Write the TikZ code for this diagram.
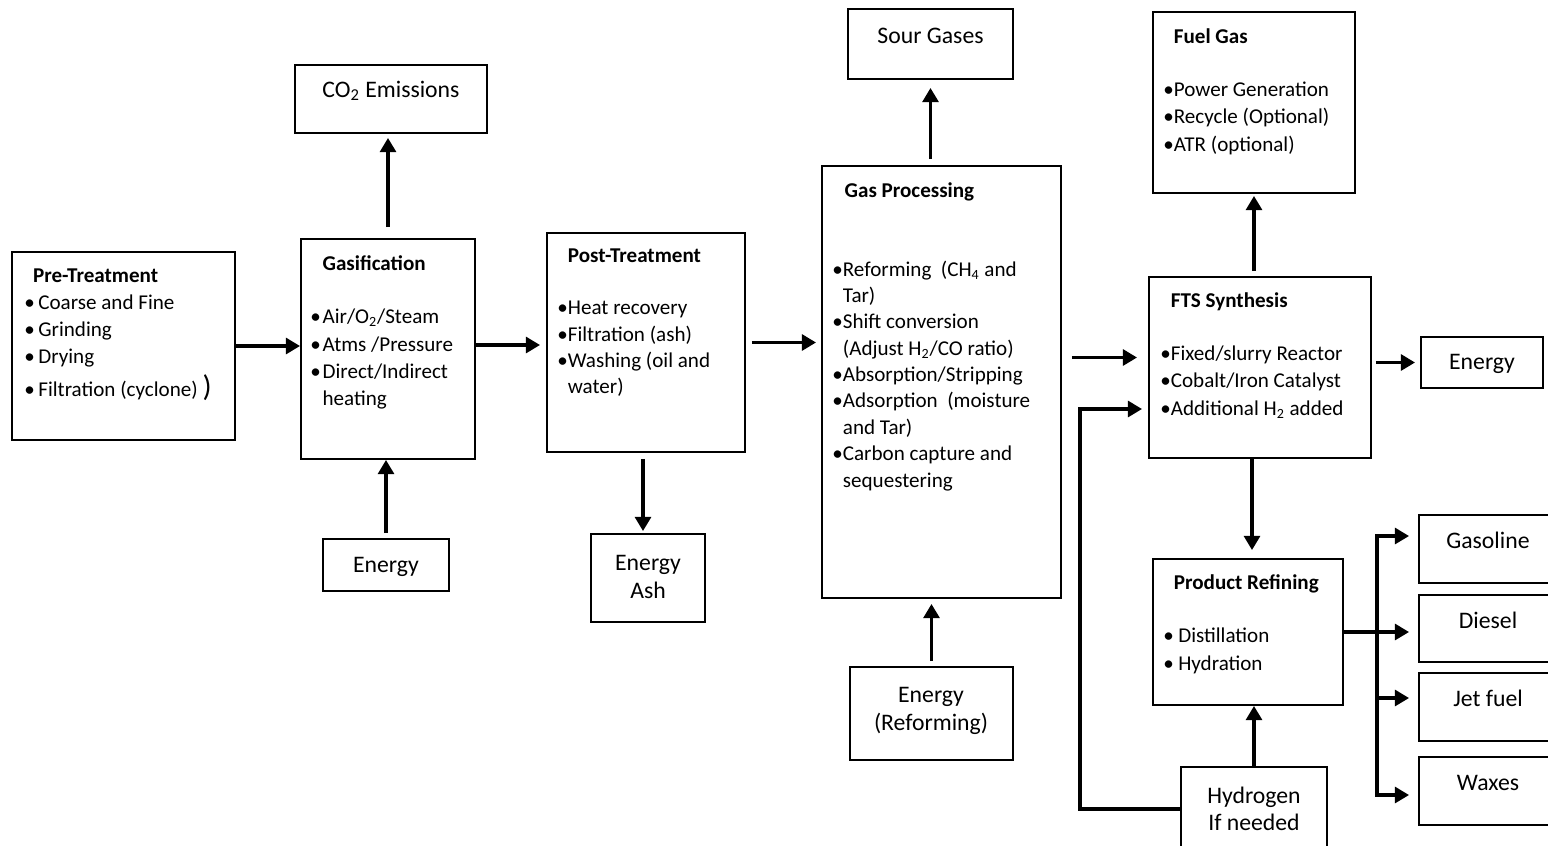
\documentclass[tikz,border=0pt]{standalone}
\usepackage{fontspec}
\setmainfont{Carlito}
\usepackage{tikz}
\usetikzlibrary{arrows.meta,fit,calc,positioning}

\newcommand{\bull}[1][6pt]{\makebox[#1][l]{\textbullet}}

\begin{document}
\begin{tikzpicture}[x=0.02cm,y=-0.02cm,
  box/.style={draw, line width=1.1pt, inner sep=0pt, align=center,
    font=\fontsize{13.5}{15.5}\selectfont},
  boxtxt/.style={inner sep=0pt, align=center, font=\fontsize{13.5}{15.5}\selectfont},
  txt/.style={anchor=north west, align=left, inner sep=0pt,
    font=\fontsize{12}{15.5}\selectfont},
  arr/.style={line width=1.8pt, -{Triangle[length=8pt,width=9pt]}}]
\path[clip, use as bounding box] (0,0) rectangle (1548,845);

% boxes
\node[box, fit={(12,252) (235,440)}] (pre) {};
\node[box, fit={(301,239) (475,459)}] (gasif) {};
\node[box, fit={(295,65) (487,133)}] (co2) {CO\textsubscript{2} Emissions};
\node[box, fit={(323,539) (449,591)}] (en1) {};
\node[box, fit={(547,233) (745,452)}] (post) {};
\node[box, fit={(591,534) (705,622)}] (ash) {};
\node[box, fit={(822,166) (1061,598)}] (gasproc) {};
\node[box, fit={(848,9) (1013,79)}] (sour) {Sour Gases};
\node[box, fit={(850,667) (1013,760)}] (enref) {};
\node[box, fit={(1153,12) (1355,193)}] (fuel) {};
\node[box, fit={(1149,277) (1371,458)}] (fts) {};
\node[box, fit={(1421,337) (1543,388)}] (en2) {};
\node[box, fit={(1153,559) (1343,705)}] (prod) {};
\node[box, fit={(1181,767) (1327,851)}] (hyd) {};
\node[box, fit={(1419,515) (1557,583)}] (gasoline) {Gasoline};
\node[box, fit={(1419,595) (1557,662)}] (diesel) {Diesel};
\node[box, fit={(1419,673) (1557,741)}] (jet) {Jet fuel};
\node[box, fit={(1419,757) (1557,825)}] (waxes) {Waxes};

% box texts
\node[boxtxt] (en1-t) at (386,567) {Energy};
\node[boxtxt] (en2-t) at (1482,364) {Energy};
\node[boxtxt] (ash-t) at (648,577) {Energy\\Ash};
\node[boxtxt] (enref-t) at (931,711) {Energy\\(Reforming)};
\node[boxtxt] (hyd-t) at (1254,809) {Hydrogen\\If needed};
\node[txt] (pre-t) at (24,268) {\hspace*{5pt}\textbf{Pre-Treatment}\\
  \bull[8pt]Coarse and Fine\\ \bull[8pt]Grinding\\ \bull[8pt]Drying\\[3pt]
  \bull[8pt]Filtration (cyclone) {\fontsize{17}{17}\selectfont)}};
\node[txt] (gasif-t) at (310,255) {\hspace*{7pt}\textbf{Gasification}\\[15pt]
  \bull[7pt]Air/O\textsubscript{2}/Steam\\ \bull[7pt]Atms /Pressure\\
  \bull[7pt]Direct/Indirect\\ \hspace*{7pt}heating};
\node[txt, font=\fontsize{12}{15}\selectfont] (post-t) at (557,248)
  {\hspace*{6pt}\textbf{Post-Treatment}\\[15pt]
  \bull Heat recovery\\ \bull Filtration (ash)\\ \bull Washing (oil and\\
  \hspace*{6pt}water)};
\node[txt, font=\fontsize{12}{15}\selectfont] (gasproc-t) at (832,182)
  {\hspace*{7pt}\textbf{Gas Processing}\\[30pt]
  \bull Reforming\ \ (CH\textsubscript{4} and\\ \hspace*{6pt}Tar)\\
  \bull Shift conversion\\ \hspace*{6pt}(Adjust H\textsubscript{2}/CO ratio)\\
  \bull Absorption/Stripping\\ \bull Adsorption\ \ (moisture\\
  \hspace*{6pt}and Tar)\\ \bull Carbon capture and\\ \hspace*{6pt}sequestering};
\node[txt] (fuel-t) at (1163,28) {\hspace*{6pt}\textbf{Fuel Gas}\\[15pt]
  \bull Power Generation\\ \bull Recycle (Optional)\\ \bull ATR (optional)};
\node[txt] (fts-t) at (1160,292) {\hspace*{6pt}\textbf{FTS Synthesis}\\[15pt]
  \bull Fixed/slurry Reactor\\ \bull Cobalt/Iron Catalyst\\
  \bull Additional H\textsubscript{2} added};
\node[txt] (prod-t) at (1163,574) {\hspace*{6pt}\textbf{Product Refining}\\[15pt]
  \bull[8.5pt]Distillation\\ \bull[8.5pt]Hydration};

% arrows
\draw[arr] (pre.east) -- (pre.east -| gasif.west);
\draw[arr, shorten <=0.22cm, shorten >=0.08cm] (gasif.north) -- (gasif.north |- co2.south);
\draw[arr, shorten <=0.1cm] (en1.north) -- (en1.north |- gasif.south);
\draw[arr, shorten >=0.12cm] ([yshift=0.08cm]gasif.east) -- ([yshift=0.08cm]gasif.east -| post.west);
\draw[arr, shorten <=0.12cm, shorten >=0.04cm] ([xshift=-0.06cm]post.south) -- ([xshift=-0.06cm]post.south |- ash.north);
\draw[arr, shorten <=0.12cm, shorten >=0.1cm] (post.east) -- (post.east -| gasproc.west);
\draw[arr, shorten <=0.12cm, shorten >=0.16cm] (sour.south |- gasproc.north) -- (sour.south);
\draw[arr, shorten <=0.1cm, shorten >=0.1cm] (enref.north) -- (enref.north |- gasproc.south);
\draw[arr, shorten <=0.2cm, shorten >=0.22cm] ([yshift=0.2cm]fts.west -| gasproc.east) -- ([yshift=0.2cm]fts.west);
\coordinate (h2bend) at (1080,409);
\draw[arr, shorten >=0.12cm] (hyd.west) -| (h2bend) -- (h2bend -| fts.west);
\draw[arr, shorten <=0.1cm, shorten >=0.04cm] (fuel.south |- fts.north) -- (fuel.south);
\draw[arr, shorten <=0.08cm, shorten >=0.1cm] (en2.west -| fts.east) -- (en2.west);
\draw[arr, shorten >=0.16cm] ([xshift=0.08cm]prod.north |- fts.south) -- ([xshift=0.08cm]prod.north);
\draw[arr] (hyd.north) -- (hyd.north |- prod.south);

% products
\coordinate (bus) at (1377,632);
\draw[arr, shorten >=0.18cm] (prod.east) -- (prod.east -| diesel.west);
\draw[arr, line cap=rect, shorten >=0.18cm] ([yshift=-0.08cm]waxes.west -| bus) -- ([yshift=0.26cm]gasoline.west -| bus) -- ([yshift=0.26cm]gasoline.west);
\foreach \prodname/\dy in {jet/0.18, waxes/-0.08}
  \draw[arr, line cap=rect, shorten >=0.18cm] ([yshift=\dy cm]\prodname.west -| bus) -- ([yshift=\dy cm]\prodname.west);
\end{tikzpicture}
\end{document}
